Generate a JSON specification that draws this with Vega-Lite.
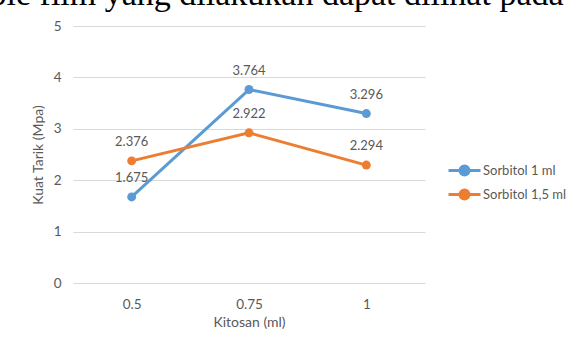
{
  "$schema": "https://vega.github.io/schema/vega-lite/v6.json",
  "width": 352,
  "height": 257,
  "autosize": {"type": "none"},
  "padding": {"left": 73, "top": 26, "right": 151, "bottom": 66},
  "background": "white",
  "title": {
    "text": "edible film yang dilakukan dapat dilihat pada",
    "frame": "group",
    "anchor": "start",
    "font": "Liberation Serif",
    "fontSize": 34,
    "fontWeight": "normal",
    "color": "black",
    "baseline": "alphabetic",
    "offset": -20,
    "dx": -125
  },
  "config": {
    "font": "Lato",
    "view": {"stroke": null},
    "axis": {
      "labelColor": "#595959",
      "titleColor": "#595959",
      "labelFontSize": 13.5,
      "titleFontSize": 14,
      "titleFontWeight": "normal",
      "gridColor": "#D9D9D9",
      "domain": false,
      "ticks": false
    }
  },
  "data": {
    "values": [
      {"Kitosan": "0.5", "Series": "Sorbitol 1 ml", "Kuat": 1.675},
      {"Kitosan": "0.75", "Series": "Sorbitol 1 ml", "Kuat": 3.764},
      {"Kitosan": "1", "Series": "Sorbitol 1 ml", "Kuat": 3.296},
      {"Kitosan": "0.5", "Series": "Sorbitol 1,5 ml", "Kuat": 2.376},
      {"Kitosan": "0.75", "Series": "Sorbitol 1,5 ml", "Kuat": 2.922},
      {"Kitosan": "1", "Series": "Sorbitol 1,5 ml", "Kuat": 2.294}
    ]
  },
  "encoding": {
    "x": {
      "field": "Kitosan",
      "type": "ordinal",
      "sort": ["0.5", "0.75", "1"],
      "scale": {"type": "point", "padding": 0.5},
      "title": "Kitosan (ml)",
      "axis": {"labelAngle": 0, "labelPadding": 14, "titlePadding": 5, "grid": false}
    },
    "y": {
      "field": "Kuat",
      "type": "quantitative",
      "scale": {"domain": [0, 5]},
      "title": "Kuat Tarik (Mpa)",
      "axis": {"values": [0, 1, 2, 3, 4, 5], "labelPadding": 12, "titlePadding": 8, "grid": true}
    },
    "color": {
      "field": "Series",
      "type": "nominal",
      "scale": {"domain": ["Sorbitol 1 ml", "Sorbitol 1,5 ml"], "range": ["#5B9BD5", "#ED7D31"]},
      "legend": {
        "title": null,
        "orient": "none",
        "legendX": 382,
        "legendY": 135,
        "symbolType": "M-2,0H2M-0.56,0A0.56,0.56 0 1,1 0.56,0A0.56,0.56 0 1,1 -0.56,0Z",
        "symbolSize": 256,
        "symbolStrokeWidth": 3,
        "labelFontSize": 13,
        "labelColor": "#595959",
        "labelOffset": 9,
        "rowPadding": 3,
        "encode": {
          "symbols": {"update": {"fill": {"scale": "color", "field": "value"}, "fillOpacity": {"value": 1}}}
        }
      }
    }
  },
  "layer": [
    {"mark": {"type": "line", "strokeWidth": 3}},
    {"mark": {"type": "point", "filled": true, "size": 80, "opacity": 1}},
    {
      "mark": {"type": "text", "dy": -19, "fontSize": 13, "color": "#595959"},
      "encoding": {"text": {"field": "Kuat", "type": "quantitative", "format": ".3f"}, "color": {"value": "#595959"}}
    }
  ]
}
